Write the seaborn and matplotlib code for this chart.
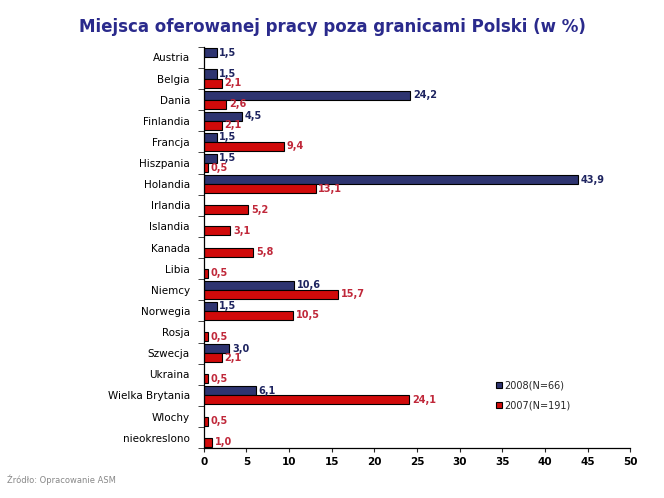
import numpy as np
import pandas as pd
import seaborn as sns
import matplotlib.pyplot as plt

countries = ["Austria", "Belgia", "Dania", "Finlandia", "Francja", "Hiszpania", "Holandia",
             "Irlandia", "Islandia", "Kanada", "Libia", "Niemcy", "Norwegia", "Rosja",
             "Szwecja", "Ukraina", "Wielka Brytania", "Wlochy", "nieokreslono"]
v2008 = [1.5, 1.5, 24.2, 4.5, 1.5, 1.5, 43.9, None, None, None, None, 10.6, 1.5, None,
         3.0, None, 6.1, None, None]
v2007 = [None, 2.1, 2.6, 2.1, 9.4, 0.5, 13.1, 5.2, 3.1, 5.8, 0.5, 15.7, 10.5, 0.5,
         2.1, 0.5, 24.1, 0.5, 1.0]
series = ["2008(N=66)", "2007(N=191)"]
colors = ["#2e3470", "#d10a0a"]
label_colors = ["#1e2460", "#c0283a"]

rows = []
for c, a, b in zip(countries, v2008, v2007):
    if a is not None:
        rows.append((c, series[0], a))
    if b is not None:
        rows.append((c, series[1], b))
df = pd.DataFrame(rows, columns=["kraj", "rok", "proc"])

sns.set_style("white")
fig = plt.figure(figsize=(6.64, 4.98), dpi=100)
ax = fig.add_axes([0.307, 0.1, 0.642, 0.806])

sns.barplot(data=df, y="kraj", x="proc", hue="rok", order=countries, hue_order=series,
            palette=colors, saturation=1, orient="h", width=0.86, edgecolor="black",
            linewidth=0.8, ax=ax)

# value labels
for cont, lc in zip(ax.containers, label_colors):
    labels = [f"{v:.1f}".replace(".", ",") for v in cont.datavalues]
    ax.bar_label(cont, labels=labels, padding=2, fontsize=7, color=lc, fontweight="bold")

ax.set_xlim(0, 50)
ax.set_ylim(len(countries) - 0.5, -0.5)
ax.set_xticks(np.arange(0, 51, 5))
ax.tick_params(axis="x", labelsize=7.5, length=3, direction="out", bottom=True,
               labelcolor="black")
ax.tick_params(axis="y", which="major", labelsize=7.5, length=0, pad=10, labelcolor="black")
ax.set_yticks(np.arange(len(countries) + 1) - 0.5, minor=True)
ax.tick_params(axis="y", which="minor", length=4, direction="out", left=True)
for t in ax.get_xticklabels():
    t.set_fontweight("bold")
ax.set_xlabel("")
ax.set_ylabel("")
sns.despine(ax=ax)
for s in ["left", "bottom"]:
    ax.spines[s].set_color("black")
    ax.spines[s].set_linewidth(0.9)

ax.legend(loc="upper left", bbox_to_anchor=(0.665, 0.19), frameon=False, fontsize=7,
          handlelength=0.6, handleheight=0.6, handletextpad=0.2, labelspacing=1.0)

fig.text(0.5, 0.945, "Miejsca oferowanej pracy poza granicami Polski (w %)",
         ha="center", va="center", fontsize=12, fontweight="bold", color="#2a2a8c")
fig.text(0.01, 0.03, "Źródło: Opracowanie ASM", fontsize=6, color="#888888")

fig.savefig("out.png", dpi=100)
